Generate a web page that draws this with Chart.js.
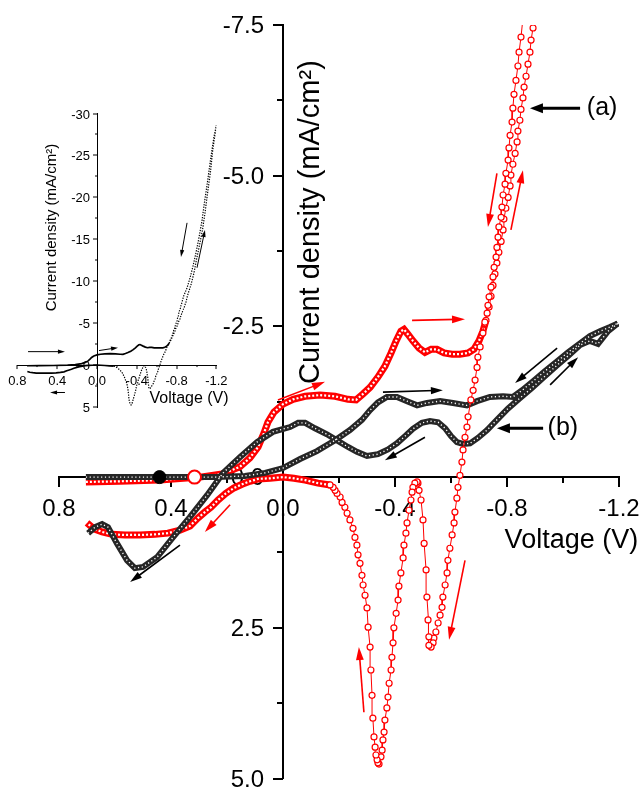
<!DOCTYPE html>
<html>
<head>
<meta charset="utf-8">
<script src="https://cdn.jsdelivr.net/npm/chart.js@4.4.0/dist/chart.umd.min.js"></script>
<style>
  html, body { margin: 0; padding: 0; background: #fff; }
  #wrap { position: relative; width: 644px; height: 787px; }
  #main { position: absolute; left: 0; top: 0; }
  #inset { position: absolute; left: 0; top: 100px; }
</style>
</head>
<body>
<div id="wrap">
  <canvas id="main" width="644" height="787"></canvas>
  <canvas id="inset" width="240" height="320"></canvas>
</div>
<script>
// [voltage (V), current density (mA/cm2)]
// curve (a): slow forward scan from +0.7 V
const redForward = [
  [0.704, 0.08], [0.582, 0.07], [0.439, 0.05], [0.296, 0.0], [0.218, -0.05], [0.154, -0.17],
  [0.118, -0.32], [0.089, -0.50], [0.068, -0.73], [0.054, -0.91], [0.032, -1.08], [0.0, -1.21],
  [-0.036, -1.29], [-0.079, -1.34], [-0.132, -1.36], [-0.186, -1.34], [-0.232, -1.29], [-0.261, -1.28],
  [-0.286, -1.38], [-0.311, -1.49], [-0.339, -1.66], [-0.364, -1.84], [-0.386, -2.06], [-0.404, -2.26],
  [-0.421, -2.42], [-0.432, -2.45], [-0.446, -2.37], [-0.464, -2.26], [-0.486, -2.14], [-0.507, -2.07],
  [-0.529, -2.12], [-0.550, -2.12], [-0.575, -2.06], [-0.604, -2.04], [-0.632, -2.04], [-0.661, -2.06],
  [-0.682, -2.12], [-0.700, -2.26], [-0.714, -2.42], [-0.725, -2.60]
];
// curve (a): steep rise up to -1.2 V
const redRise = [
  [-0.736, -2.82], [-0.743, -3.00], [-0.750, -3.18], [-0.757, -3.37], [-0.764, -3.55], [-0.771, -3.73],
  [-0.779, -3.91], [-0.786, -4.10], [-0.789, -4.28], [-0.796, -4.46], [-0.804, -4.64], [-0.811, -4.83],
  [-0.814, -5.01], [-0.821, -5.19], [-0.829, -5.37], [-0.836, -5.56], [-0.839, -5.74], [-0.846, -5.92],
  [-0.850, -6.10], [-0.857, -6.29], [-0.861, -6.47], [-0.868, -6.65], [-0.875, -6.85], [-0.882, -7.05],
  [-0.886, -7.25], [-0.893, -7.45], [-0.910, -8.3], [-0.945, -9.6], [-0.975, -11.0], [-1.000, -12.6],
  [-1.030, -14.3], [-1.060, -16.1], [-1.085, -18.1], [-1.110, -20.4], [-1.140, -23.0], [-1.165, -25.8],
  [-1.200, -28.6]
];
// curve (a): reverse scan, through the two reduction dips
const redFall = [
  [-1.175, -27.2], [-1.140, -24.4], [-1.110, -21.8], [-1.080, -19.4], [-1.055, -17.2], [-1.025, -15.2],
  [-0.995, -13.4], [-0.965, -11.8], [-0.935, -10.4], [-0.905, -9.2], [-0.870, -8.2],
  [-0.850, -7.30], [-0.843, -7.05], [-0.839, -6.82], [-0.832, -6.58], [-0.825, -6.35], [-0.821, -6.12],
  [-0.818, -5.89], [-0.811, -5.67], [-0.807, -5.46], [-0.804, -5.26], [-0.796, -5.04], [-0.793, -4.86],
  [-0.786, -4.68], [-0.782, -4.48], [-0.779, -4.31], [-0.771, -4.15], [-0.768, -3.98], [-0.764, -3.81],
  [-0.761, -3.65], [-0.754, -3.48], [-0.750, -3.32], [-0.743, -3.15], [-0.736, -2.99], [-0.732, -2.85],
  [-0.729, -2.72], [-0.721, -2.57], [-0.714, -2.39], [-0.704, -2.16], [-0.696, -1.99], [-0.693, -1.82],
  [-0.686, -1.61], [-0.679, -1.44], [-0.671, -1.28], [-0.661, -1.00], [-0.657, -0.83], [-0.650, -0.66],
  [-0.643, -0.45], [-0.639, -0.25], [-0.632, -0.03], [-0.625, 0.17], [-0.621, 0.35], [-0.614, 0.58],
  [-0.611, 0.76], [-0.604, 0.96], [-0.596, 1.18], [-0.589, 1.38], [-0.586, 1.59], [-0.579, 1.79],
  [-0.571, 1.99], [-0.568, 2.16], [-0.561, 2.29], [-0.554, 2.42], [-0.546, 2.57], [-0.539, 2.67],
  [-0.536, 2.75], [-0.529, 2.82], [-0.521, 2.79], [-0.521, 2.65], [-0.518, 2.37], [-0.514, 1.99],
  [-0.511, 1.54], [-0.504, 1.10], [-0.500, 0.71], [-0.493, 0.38], [-0.486, 0.22], [-0.482, 0.10],
  [-0.479, 0.08], [-0.471, 0.10], [-0.464, 0.17], [-0.461, 0.25], [-0.457, 0.38], [-0.450, 0.55],
  [-0.443, 0.76], [-0.439, 0.93], [-0.432, 1.13], [-0.429, 1.34], [-0.421, 1.59], [-0.414, 1.81],
  [-0.411, 2.04], [-0.404, 2.26], [-0.396, 2.50], [-0.393, 2.75], [-0.389, 2.99], [-0.386, 3.20],
  [-0.379, 3.42], [-0.375, 3.65], [-0.371, 3.83], [-0.364, 4.03], [-0.361, 4.23], [-0.357, 4.36],
  [-0.354, 4.53], [-0.350, 4.64], [-0.343, 4.76], [-0.339, 4.74], [-0.336, 4.69], [-0.332, 4.61],
  [-0.329, 4.48], [-0.325, 4.31], [-0.321, 4.00], [-0.318, 3.62], [-0.314, 3.20], [-0.311, 2.82],
  [-0.304, 2.49], [-0.300, 2.17], [-0.293, 1.96], [-0.286, 1.79], [-0.282, 1.63], [-0.275, 1.43],
  [-0.268, 1.29], [-0.264, 1.13], [-0.257, 1.00], [-0.250, 0.85], [-0.239, 0.71], [-0.229, 0.60],
  [-0.221, 0.50], [-0.211, 0.42], [-0.204, 0.33], [-0.193, 0.27], [-0.186, 0.22], [-0.179, 0.17],
  [-0.168, 0.13]
];
// curve (a): slow return back to +0.7 V
const redReturn = [
  [-0.125, 0.10], [-0.079, 0.05], [-0.039, 0.02], [0.0, 0.0], [0.046, 0.02], [0.089, 0.03],
  [0.118, 0.07], [0.146, 0.12], [0.175, 0.18], [0.204, 0.27], [0.232, 0.38], [0.257, 0.50],
  [0.279, 0.58], [0.304, 0.68], [0.332, 0.81], [0.368, 0.88], [0.411, 0.93], [0.457, 0.95],
  [0.511, 0.96], [0.564, 0.96], [0.611, 0.95], [0.646, 0.91], [0.675, 0.86], [0.700, 0.76]
];
// curve (b): forward scan
const blackForward = [
  [0.704, 0.0], [0.546, 0.0], [0.386, 0.0], [0.243, 0.0], [0.136, -0.02], [0.064, -0.07],
  [0.0, -0.15], [-0.061, -0.30], [-0.121, -0.43], [-0.186, -0.61], [-0.239, -0.78], [-0.282, -0.95],
  [-0.311, -1.11], [-0.339, -1.24], [-0.371, -1.33], [-0.407, -1.33], [-0.443, -1.26], [-0.479, -1.19],
  [-0.514, -1.23], [-0.561, -1.26], [-0.607, -1.23], [-0.657, -1.19], [-0.693, -1.26], [-0.739, -1.33],
  [-0.786, -1.34], [-0.821, -1.33], [-0.854, -1.44], [-0.893, -1.59], [-0.936, -1.76], [-0.979, -1.92],
  [-1.018, -2.07], [-1.061, -2.22], [-1.096, -2.34], [-1.132, -2.42], [-1.168, -2.49], [-1.196, -2.55]
];
// curve (b): reverse scan
const blackReturn = [
  [-1.161, -2.42], [-1.125, -2.21], [-1.096, -2.26], [-1.061, -2.19], [-1.018, -2.01], [-0.975, -1.84],
  [-0.932, -1.66], [-0.889, -1.48], [-0.846, -1.31], [-0.804, -1.14], [-0.764, -0.95], [-0.729, -0.78],
  [-0.696, -0.65], [-0.668, -0.56], [-0.643, -0.55], [-0.621, -0.58], [-0.600, -0.68], [-0.579, -0.81],
  [-0.554, -0.91], [-0.525, -0.93], [-0.496, -0.90], [-0.464, -0.80], [-0.436, -0.68], [-0.407, -0.56],
  [-0.375, -0.46], [-0.339, -0.38], [-0.300, -0.35], [-0.264, -0.42], [-0.232, -0.50], [-0.196, -0.60],
  [-0.157, -0.71], [-0.114, -0.81], [-0.079, -0.90], [-0.054, -0.90], [-0.025, -0.83], [0.036, -0.75],
  [0.093, -0.58], [0.154, -0.33], [0.214, -0.07], [0.271, 0.30], [0.332, 0.66], [0.393, 1.00],
  [0.450, 1.33], [0.500, 1.49], [0.529, 1.51], [0.557, 1.38], [0.593, 1.10], [0.625, 0.83],
  [0.646, 0.78], [0.671, 0.83], [0.696, 0.93]
];
// rest potentials marked on the zero line
const restB = [[0.441, 0]];
const restA = [[0.316, 0]];

const mainXTicks = ['0.8', '0.4', '0.0', '-0.4', '-0.8', '-1.2'];
const mainYTicks = ['-7.5', '-5.0', '-2.5', '0.0', '2.5', '5.0'];
const insetXTicks = ['0.8', '0.4', '0.0', '-0.4', '-0.8', '-1.2'];
const insetYTicks = ['-30', '-25', '-20', '-15', '-10', '-5', '0', '5'];

const RED = '#ff0000';
const DARK = '#262626';
const FONT = "'Liberation Sans', Arial, sans-serif";
Chart.defaults.font.family = FONT;

const pts = arr => arr.map(([x, y]) => ({ x, y }));
const clean = v => (Math.abs(v) < 1e-9 ? 0 : v);
const pickLabel = (list, fmt) => v => {
  const s = fmt(clean(v));
  return list.includes(s) ? s : '';
};
// keep the layout from growing around the axis labels; the axes sit inside the plot
const noPad = scale => {
  scale.paddingTop = 0;
  scale.paddingBottom = 0;
  scale.paddingLeft = 0;
  scale.paddingRight = 0;
};

function drawArrow(ctx, xs, ys, a) {
  const x1 = xs.getPixelForValue(a.from[0]), y1 = ys.getPixelForValue(a.from[1]);
  const x2 = xs.getPixelForValue(a.to[0]), y2 = ys.getPixelForValue(a.to[1]);
  const ang = Math.atan2(y2 - y1, x2 - x1);
  const c = Math.cos(ang), s = Math.sin(ang);
  const hl = a.head, hw = a.head * (a.spread || 0.35);
  ctx.strokeStyle = a.color;
  ctx.fillStyle = a.color;
  ctx.lineWidth = a.width;
  ctx.beginPath();
  ctx.moveTo(x1, y1);
  ctx.lineTo(x2 - hl * 0.7 * c, y2 - hl * 0.7 * s);
  ctx.stroke();
  ctx.beginPath();
  ctx.moveTo(x2, y2);
  ctx.lineTo(x2 - hl * c + hw * s, y2 - hl * s - hw * c);
  ctx.lineTo(x2 - hl * c - hw * s, y2 - hl * s + hw * c);
  ctx.closePath();
  ctx.fill();
}

// tick marks, y tick labels (left of the crossing axis), arrows and free text
const decor = {
  id: 'decor',
  beforeDatasetsDraw(chart, args, opts) {
    const { ctx, scales: { x, y } } = chart;
    const x0 = x.getPixelForValue(0), y0 = y.getPixelForValue(0);
    ctx.save();
    ctx.strokeStyle = '#000';
    ctx.lineWidth = opts.tickWidth;
    x.ticks.forEach(t => {
      const px = Math.round(x.getPixelForValue(t.value));
      const len = t.label ? opts.major : opts.minor;
      ctx.beginPath(); ctx.moveTo(px, y0); ctx.lineTo(px, y0 + len); ctx.stroke();
    });
    ctx.font = opts.yFont;
    ctx.fillStyle = '#000';
    ctx.textAlign = 'right';
    ctx.textBaseline = 'middle';
    y.ticks.forEach(t => {
      const py = Math.round(y.getPixelForValue(t.value));
      const len = t.label ? opts.major : opts.minor;
      ctx.beginPath(); ctx.moveTo(x0 - len, py); ctx.lineTo(x0, py); ctx.stroke();
      if (t.label) ctx.fillText(t.label, x0 - opts.yGap, py + 1);
    });
    ctx.restore();
  },
  afterDatasetsDraw(chart, args, opts) {
    const { ctx, scales: { x, y } } = chart;
    ctx.save();
    (opts.arrows || []).forEach(a => drawArrow(ctx, x, y, a));
    (opts.texts || []).forEach(t => {
      ctx.save();
      ctx.translate(x.getPixelForValue(t.at[0]), y.getPixelForValue(t.at[1]));
      if (t.rotate) ctx.rotate(t.rotate);
      ctx.font = t.font;
      ctx.fillStyle = '#000';
      ctx.textAlign = t.align || 'center';
      ctx.textBaseline = 'middle';
      ctx.fillText(t.text, 0, 0);
      ctx.restore();
    });
    ctx.restore();
  }
};

function tube(data, outer, width, dash, dashWidth, order) {
  return [
    { data: pts(data), borderColor: '#fff', borderWidth: dashWidth, borderDash: dash,
      pointRadius: 0, showLine: true, order: order },
    { data: pts(data), borderColor: outer, borderWidth: width,
      pointRadius: 0, showLine: true, order: order + 1 }
  ];
}

const redSparse = [redForward[redForward.length - 1], ...redRise, ...redFall];
const redBack = [redFall[redFall.length - 1], ...redReturn];
const blackBack = [blackForward[blackForward.length - 1], ...blackReturn];

const mainDatasets = [
  { data: pts(restB), pointRadius: 6.5, pointBackgroundColor: '#000', pointBorderColor: '#000',
    pointBorderWidth: 1, showLine: false, order: 0 },
  { data: pts(restA), pointRadius: 6.5, pointBackgroundColor: '#fff', pointBorderColor: RED,
    pointBorderWidth: 2, showLine: false, order: 0 },
  { data: pts(redSparse), borderColor: RED, borderWidth: 1, showLine: true,
    pointRadius: 3, pointBorderWidth: 1.2, pointBackgroundColor: '#fff', pointBorderColor: RED, order: 1 },
  ...tube(blackForward, DARK, 6, [1.2, 2.6], 1.4, 2),
  ...tube(blackBack, DARK, 6, [1.2, 2.6], 1.4, 2),
  ...tube(redForward, RED, 7, [2, 2], 2.2, 4),
  ...tube(redBack, RED, 7, [2, 2], 2.2, 4)
];

const redArrow = (from, to) => ({ from, to, color: RED, width: 1.6, head: 13, spread: 0.3 });
const blackArrow = (from, to) => ({ from, to, color: '#000', width: 1.6, head: 12, spread: 0.3 });
const pointer = (from, to) => ({ from, to, color: '#000', width: 3, head: 13, spread: 0.38 });

const hiddenLabel = 'rgba(0,0,0,0)';

new Chart(document.getElementById('main'), {
  type: 'scatter',
  data: { datasets: mainDatasets },
  options: {
    responsive: false,
    animation: false,
    events: [],
    layout: { padding: { left: 59, right: 25, top: 25, bottom: 8 } },
    plugins: {
      legend: { display: false },
      tooltip: { enabled: false },
      decor: {
        tickWidth: 2, major: 10, minor: 6, yGap: 19, yFont: '24px ' + FONT,
        arrows: [
          redArrow([0.018, -1.28], [-0.150, -1.58]),
          redArrow([-0.461, -2.60], [-0.650, -2.62]),
          redArrow([-0.764, -5.04], [-0.732, -4.15]),
          redArrow([-0.814, -4.10], [-0.857, -5.09]),
          redArrow([-0.650, 1.38], [-0.593, 2.70]),
          redArrow([-0.289, 3.90], [-0.271, 2.82]),
          redArrow([0.189, 0.46], [0.279, 0.91]),
          pointer([-1.061, -6.12], [-0.882, -6.12]),
          pointer([-0.929, -0.81], [-0.764, -0.81]),
          blackArrow([-0.357, -1.41], [-0.571, -1.44]),
          blackArrow([-0.979, -2.14], [-0.829, -1.56]),
          blackArrow([-0.954, -1.53], [-1.054, -1.99]),
          blackArrow([-0.507, -0.66], [-0.364, -0.28]),
          blackArrow([0.368, 1.13], [0.546, 1.74])
        ],
        texts: [
          { text: '(a)', at: [-1.085, -6.12], font: '25px ' + FONT, align: 'left' },
          { text: '(b)', at: [-0.945, -0.81], font: '25px ' + FONT, align: 'left' },
          { text: 'Voltage (V)', at: [-1.030, 1.06], font: '27px ' + FONT },
          { text: 'Current density (mA/cm²)', at: [-0.100, -4.23], font: '29px ' + FONT,
            rotate: -Math.PI / 2 }
        ]
      }
    },
    scales: {
      x: {
        type: 'linear', min: -1.2, max: 0.8, reverse: true, position: { y: 0 },
        afterFit: noPad,
        grid: { drawOnChartArea: false, drawTicks: true, tickLength: 18, tickColor: 'rgba(0,0,0,0)' },
        border: { color: '#000', width: 2 },
        ticks: {
          stepSize: 0.2, autoSkip: false, maxRotation: 0, padding: 0, color: '#000',
          font: { size: 24 }, callback: pickLabel(mainXTicks, v => v.toFixed(1))
        }
      },
      y: {
        type: 'linear', min: -7.5, max: 5, reverse: true, position: { x: 0 },
        afterFit: noPad,
        grid: { drawOnChartArea: false, drawTicks: false },
        border: { color: '#000', width: 2 },
        ticks: {
          stepSize: 1.25, autoSkip: false, padding: 0, color: hiddenLabel,
          font: { size: 24 }, callback: pickLabel(mainYTicks, v => v.toFixed(1))
        }
      }
    }
  },
  plugins: [decor]
});

// inset: the whole of curve (a) on a wider current scale
const insetDatasets = [
  { data: pts(redSparse), borderColor: '#000', borderWidth: 1.2, borderDash: [1.3, 1.3],
    pointRadius: 0, showLine: true },
  { data: pts(redForward), borderColor: '#000', borderWidth: 1.7, pointRadius: 0, showLine: true },
  { data: pts(redBack), borderColor: '#000', borderWidth: 1.7, pointRadius: 0, showLine: true }
];

const thin = (from, to) => ({ from, to, color: '#000', width: 1, head: 7, spread: 0.3 });

new Chart(document.getElementById('inset'), {
  type: 'scatter',
  data: { datasets: insetDatasets },
  options: {
    responsive: false,
    animation: false,
    events: [],
    layout: { padding: { left: 17.4, right: 23.6, top: 13.5, bottom: 13 } },
    plugins: {
      legend: { display: false },
      tooltip: { enabled: false },
      decor: {
        tickWidth: 1, major: 4, minor: 2, yGap: 7, yFont: '13px ' + FONT,
        arrows: [
          thin([0.693, -1.6], [0.322, -1.6]),
          thin([0.322, 3.27], [0.472, 3.27]),
          thin([-0.020, -1.73], [-0.211, -2.08]),
          thin([-0.905, -16.96], [-0.844, -12.9]),
          thin([-1.005, -11.6], [-1.085, -16.1])
        ],
        texts: [
          { text: 'Voltage (V)', at: [-0.925, 3.99], font: '16px ' + FONT },
          { text: 'Current density (mA/cm²)', at: [0.452, -16.4], font: '15px ' + FONT,
            rotate: -Math.PI / 2 }
        ]
      }
    },
    scales: {
      x: {
        type: 'linear', min: -1.2, max: 0.8, reverse: true, position: { y: 0 },
        afterFit: noPad,
        grid: { drawOnChartArea: false, drawTicks: true, tickLength: 9, tickColor: 'rgba(0,0,0,0)' },
        border: { color: '#000', width: 1 },
        ticks: {
          stepSize: 0.2, autoSkip: false, maxRotation: 0, padding: 0, color: '#000',
          font: { size: 13 }, callback: pickLabel(insetXTicks, v => v.toFixed(1))
        }
      },
      y: {
        type: 'linear', min: -30, max: 5, reverse: true, position: { x: 0 },
        afterFit: noPad,
        grid: { drawOnChartArea: false, drawTicks: false },
        border: { color: '#000', width: 1 },
        ticks: {
          stepSize: 2.5, autoSkip: false, padding: 0, color: hiddenLabel,
          font: { size: 13 }, callback: pickLabel(insetYTicks, v => String(Math.round(v)))
        }
      }
    }
  },
  plugins: [decor]
});
</script>
</body>
</html>
